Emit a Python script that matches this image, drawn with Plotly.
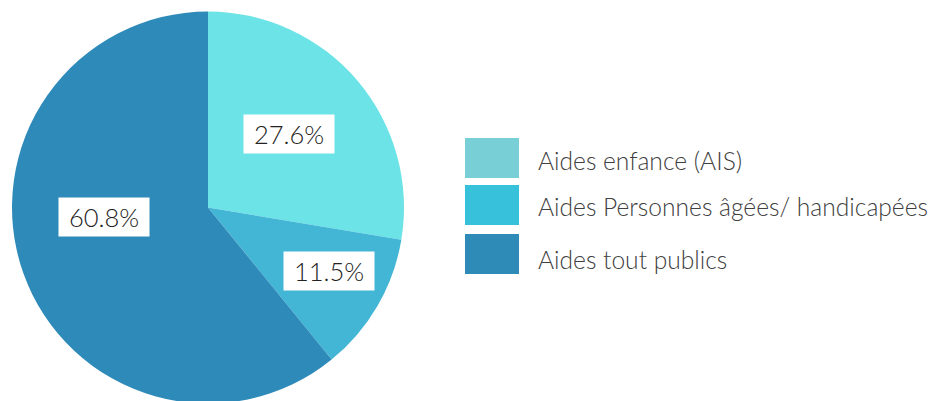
import plotly.graph_objects as go

labels = ["Aides enfance (AIS)", "Aides Personnes âgées/ handicapées", "Aides tout publics"]
values = [27.6, 11.5, 60.8]
slice_colors = ["#6ce3e6", "#43b6d6", "#2e8ab9"]
legend_colors = ["#78cfd5", "#38c1db", "#2e8ab6"]

W, H = 930, 404
def px(x):
    return x / W
def py(y):
    return 1 - y / H

fig = go.Figure()
fig.add_trace(go.Pie(
    labels=labels, values=values, sort=False, direction="clockwise", rotation=0,
    marker=dict(colors=slice_colors, line=dict(width=0)),
    textinfo="none", hoverinfo="label+percent", showlegend=False,
    domain=dict(x=[px(12), px(404)], y=[0, py(11)]),
))

label_font = dict(family="Lato, 'Open Sans', sans-serif", size=25.5, color="#222222", weight=300)
label_pos = [(289, 134), (329, 271), (104, 217)]
annotations = []
for v, (x, y) in zip(values, label_pos):
    annotations.append(dict(
        x=px(x), y=py(y), xref="paper", yref="paper", text=f"{v}%",
        showarrow=False, xanchor="center", yanchor="middle",
        bgcolor="white", width=86, height=34, font=label_font, borderpad=2,
    ))

shapes = []
sw_y = [(138, 178), (185, 225), (234, 274)]
text_y = [160, 206, 259]
for lab, col, (y0, y1), ty in zip(labels, legend_colors, sw_y, text_y):
    shapes.append(dict(type="rect", xref="paper", yref="paper",
                       x0=px(465), x1=px(519), y0=py(y1), y1=py(y0),
                       fillcolor=col, line=dict(width=0)))
    annotations.append(dict(
        x=px(536), y=py(ty), xref="paper", yref="paper", text=lab,
        showarrow=False, xanchor="left", yanchor="middle",
        font=dict(family="Lato, 'Open Sans', sans-serif", size=24.6, color="#404040", weight=300),
    ))

fig.update_layout(
    width=W, height=H, margin=dict(l=0, r=0, t=0, b=0),
    paper_bgcolor="white", plot_bgcolor="white",
    annotations=annotations, shapes=shapes,
)
fig.write_html("out.html", config={"displayModeBar": False},
               post_script="document.body.style.margin='0';document.body.style.overflow='hidden';document.documentElement.style.overflow='hidden';")
